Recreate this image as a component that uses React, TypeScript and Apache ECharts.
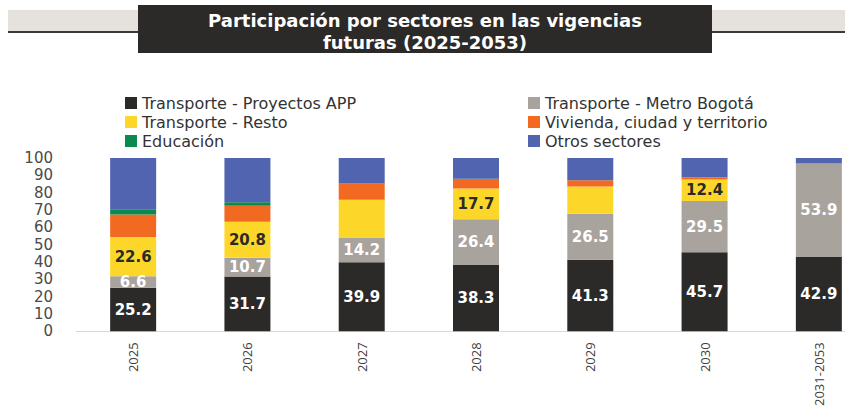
import React, { useEffect, useRef } from "react";
import * as echarts from "echarts";

const categories = ["2025", "2026", "2027", "2028", "2029", "2030", "2031-2053"];
const yTicks = [0, 10, 20, 30, 40, 50, 60, 70, 80, 90, 100];

const transporteApp = [25.2, 31.7, 39.9, 38.3, 41.3, 45.7, 42.9];
const transporteMetro = [6.6, 10.7, 14.2, 26.4, 26.5, 29.5, 53.9];
const transporteResto = [22.6, 20.8, 21.8, 17.7, 15.8, 12.4, 0];
const vivienda = [13.0, 9.3, 9.2, 5.5, 3.5, 1.3, 0];
const educacion = [3.0, 2.0, 0.3, 0.2, 0, 0, 0];
const otros = [29.6, 25.5, 14.6, 11.9, 12.9, 11.1, 3.2];
const restoLabelShown = [true, true, false, true, false, true, false];

const seriesNames = [
  "Transporte - Proyectos APP",
  "Transporte - Metro Bogotá",
  "Transporte - Resto",
  "Vivienda, ciudad y territorio",
  "Educación",
  "Otros sectores",
];

const titleLines = ["Participación por sectores en las vigencias", "futuras (2025-2053)"];

export default function App() {
  const ref = useRef<HTMLDivElement>(null);
  useEffect(() => {
    if (!ref.current) return;
    const chart = echarts.init(ref.current, null, { renderer: "svg" });
    const font = "DejaVu Sans";
    const colors = ["#2b2a28", "#a9a39d", "#fcd72a", "#f26a21", "#0b8a50", "#5164b0"];
    const seriesData = [transporteApp, transporteMetro, transporteResto, vivienda, educacion, otros];
    const labelColor = ["#ffffff", "#ffffff", "#2b2a28", "#ffffff", "#ffffff", "#ffffff"];
    const series = seriesData.map((arr, si) => ({
      name: seriesNames[si],
      type: "bar",
      stack: "total",
      barWidth: 46,
      itemStyle: { color: colors[si] },
      data: arr.map((v, i) => {
        const show = si === 0 || si === 1 || (si === 2 && restoLabelShown[i]);
        return {
          value: v,
          label: {
            show,
            position: "inside",
            formatter: (p: any) => Number(p.value).toFixed(1),
            color: labelColor[si],
            fontFamily: font,
            fontWeight: "bold",
            fontSize: 15,
          },
        };
      }),
    }));
    chart.setOption({
      animation: false,
      backgroundColor: "#ffffff",
      textStyle: { fontFamily: font },
      graphic: [
        { type: "rect", shape: { x: 8, y: 10, width: 900, height: 22 }, style: { fill: "#e5e2de" } },
        { type: "rect", shape: { x: 8, y: 31, width: 900, height: 2 }, style: { fill: "#3a3937" } },
        { type: "rect", shape: { x: 138, y: 5, width: 574, height: 48 }, style: { fill: "#2b2a28" } },
        {
          type: "text",
          x: 425,
          y: 20,
          style: {
            text: titleLines[0],
            fill: "#ffffff",
            font: "bold 18px 'DejaVu Sans'",
            textAlign: "center",
            textVerticalAlign: "middle",
          },
        },
        {
          type: "text",
          x: 425,
          y: 42,
          style: {
            text: titleLines[1],
            fill: "#ffffff",
            font: "bold 18px 'DejaVu Sans'",
            textAlign: "center",
            textVerticalAlign: "middle",
          },
        },
      ],
      legend: [
        {
          orient: "vertical",
          left: 120,
          top: 90,
          itemWidth: 12,
          itemHeight: 12,
          itemGap: 3,
          icon: "rect",
          data: [seriesNames[0], seriesNames[2], seriesNames[4]],
          textStyle: { fontFamily: font, fontSize: 16, color: "#333333", lineHeight: 16 },
        },
        {
          orient: "vertical",
          left: 523,
          top: 90,
          itemWidth: 12,
          itemHeight: 12,
          itemGap: 3,
          icon: "rect",
          data: [seriesNames[1], seriesNames[3], seriesNames[5]],
          textStyle: { fontFamily: font, fontSize: 16, color: "#333333", lineHeight: 16 },
        },
      ],
      grid: { left: 76, top: 158, width: 800, height: 176, containLabel: false },
      xAxis: {
        type: "category",
        data: categories,
        axisLine: { lineStyle: { color: "#d9d9d9", width: 1 } },
        axisTick: { show: false },
        axisLabel: {
          rotate: 90,
          margin: 11,
          fontFamily: "Open Sans",
          fontSize: 13,
          color: "#404040",
          interval: 0,
        },
      },
      yAxis: {
        type: "value",
        min: yTicks[0],
        max: yTicks[yTicks.length - 1],
        interval: 10,
        axisLine: { show: false },
        axisTick: { show: false },
        splitLine: { show: false },
        axisLabel: { margin: 23, fontFamily: font, fontSize: 15, color: "#4a4a4a" },
      },
      series,
    });
    return () => chart.dispose();
  }, []);
  return (
    <div style={{ position: "fixed", left: 0, top: 0, width: 845, height: 409, overflow: "hidden" }}>
      <div ref={ref} style={{ position: "absolute", left: 0, top: 0, width: 900, height: 409 }} />
    </div>
  );
}
